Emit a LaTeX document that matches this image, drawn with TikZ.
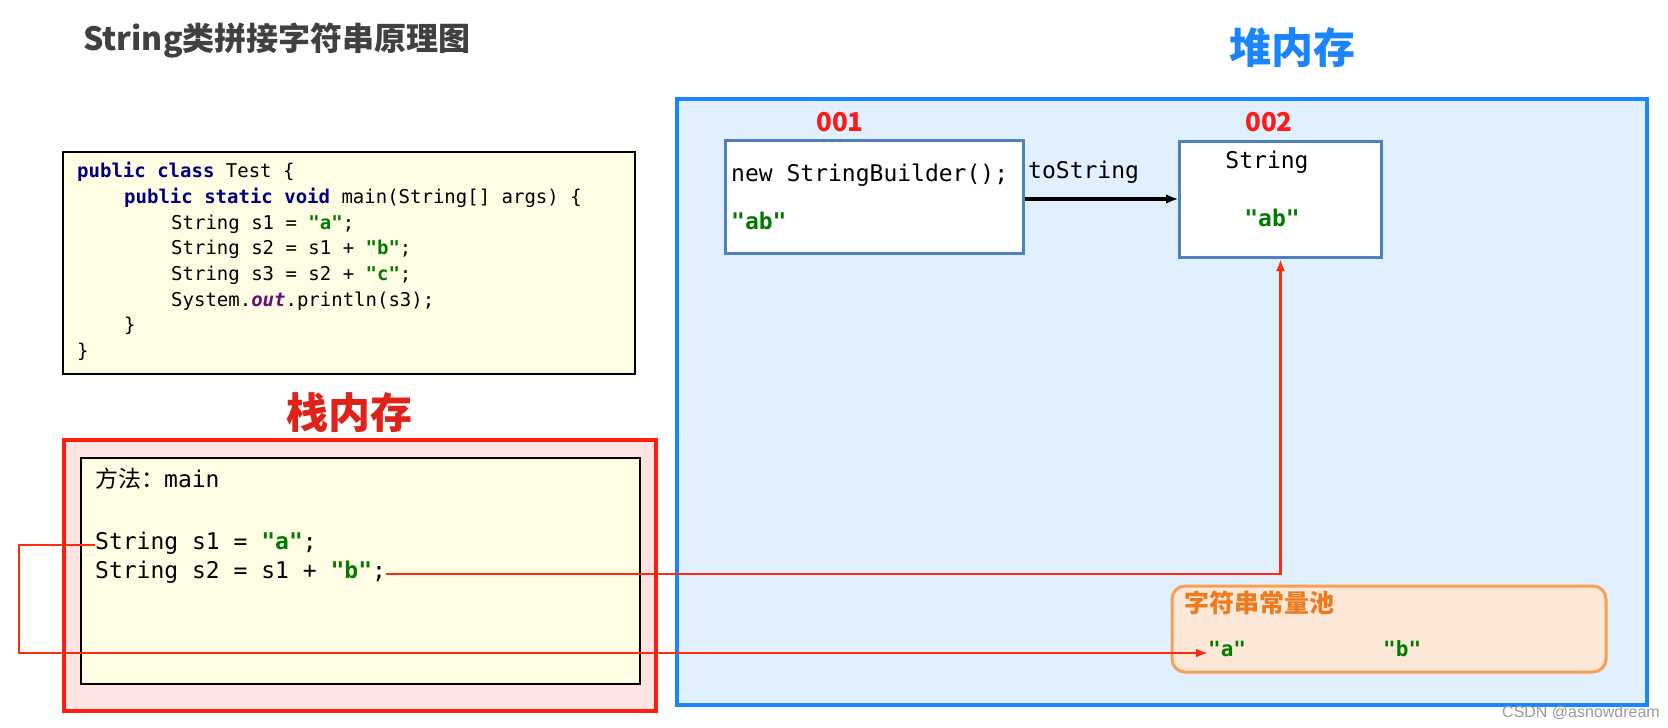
\documentclass[tikz,border=0pt]{standalone}
\usepackage{fontspec}
\setmainfont{Noto Sans CJK SC}
\setmonofont{DejaVu Sans Mono}
\newfontfamily\cjk{Noto Sans CJK SC}
\newfontfamily\wmfont{Liberation Sans}
\usetikzlibrary{arrows.meta}
\definecolor{titlegray}{HTML}{404040}
\definecolor{heapblue}{HTML}{1A85FF}
\definecolor{heapfill}{HTML}{E0F0FF}
\definecolor{boxblue}{HTML}{5080BD}
\definecolor{codefill}{HTML}{FFFDE4}
\definecolor{stackred}{HTML}{FF1E0A}
\definecolor{stacktitle}{HTML}{E0221A}
\definecolor{stackfill}{HTML}{FFE4E4}
\definecolor{kwblue}{HTML}{000080}
\definecolor{strgreen}{HTML}{007A00}
\definecolor{outpurple}{HTML}{660E7A}
\definecolor{addrred}{HTML}{FF1A1A}
\definecolor{pooldraw}{HTML}{F5A055}
\definecolor{poolfill}{HTML}{FDE8D8}
\definecolor{pooltext}{HTML}{EE7A1E}
\definecolor{linkred}{HTML}{FF2A10}
\definecolor{wmgray}{HTML}{9A9A9A}
\newcommand\kw[1]{\textcolor{kwblue}{\bfseries #1}}
\newcommand\qs[1]{\textcolor{strgreen}{\bfseries #1}}
\tikzset{
  code/.style={anchor=west, inner sep=0, text height=1em, text depth=0em,
    font=\ttfamily\fontsize{19}{19}\selectfont},
  bigcode/.style={anchor=west, inner sep=0, text height=1em, text depth=0em,
    font=\ttfamily\fontsize{23}{23}\selectfont},
  objbox/.style={draw=boxblue, line width=3, fill=white, anchor=north west, inner sep=0},
  addr/.style={text=addrred, inner sep=0, font=\cjk\bfseries\fontsize{26}{26}\selectfont},
  bigtitle/.style={inner sep=0, font=\cjk\bfseries\fontsize{42}{42}\selectfont},
  redlink/.style={draw=linkred, line width=2.5, -{Latex[length=12,width=9]}},
}
\begin{document}
\begin{tikzpicture}[x=1pt,y=-1pt]
\useasboundingbox (0,0) rectangle (1668,728);
\fill[white] (0,0) rectangle (1668,728);

% title
\node[anchor=west, inner sep=0, text=titlegray, font=\cjk\bfseries\fontsize{32}{32}\selectfont] (title) at (83,41) {String类拼接字符串原理图};

% heap
\node[bigtitle, text=heapblue] (heapt) at (1292,48) {堆内存};
\draw[draw=heapblue, line width=4, fill=heapfill] (677,99) rectangle (1647,705);

\node[addr] (a001) at (840,122) {001};
\node[addr] (a002) at (1269,122) {002};

\node[objbox, minimum width=298, minimum height=113] (sb) at (724,139) {};
\node[bigcode] (sbtxt) at (731,176) {new StringBuilder();};
\node[bigcode] (sbab) at (731,224) {\qs{"ab"}};

\node[objbox, minimum width=202, minimum height=116] (str) at (1178,140) {};
\node[bigcode, anchor=center] (strtxt) at (1267,163) {String};
\node[bigcode, anchor=center] (strab) at (1272,221) {\qs{"ab"}};

\node[bigcode] (tostr) at (1028,173) {toString};
\draw[line width=4, -{Latex[length=12,width=10]}] (sb.east |- 0,199) -- (str.west |- 0,199);

% pool
\draw[draw=pooldraw, line width=3, fill=poolfill, rounded corners=13] (1172,586) rectangle (1606,672);
\node[anchor=west, inner sep=0, text=pooltext, font=\cjk\bfseries\fontsize{25}{25}\selectfont] (poolt) at (1184,603) {字符串常量池};
\node[code, font=\ttfamily\bfseries\fontsize{21}{21}\selectfont] (pa) at (1208,651) {\qs{"a"}};
\node[code, font=\ttfamily\bfseries\fontsize{21}{21}\selectfont] (pb) at (1383,651) {\qs{"b"}};

% code box
\draw[line width=1.5, fill=codefill] (63,152) rectangle (635,374);
\node[code] (c1) at (77,172) {\kw{public class} Test \{};
\node[code] (c2) at (124,198) {\kw{public static void} main(String[] args) \{};
\node[code] (c3) at (171,224) {String s1 = \qs{"a"};};
\node[code] (c4) at (171,249) {String s2 = s1 + \qs{"b"};};
\node[code] (c5) at (171,275) {String s3 = s2 + \qs{"c"};};
\node[code] (c6) at (171,301) {System.\textcolor{outpurple}{\bfseries\itshape out}.println(s3);};
\node[code] (c7) at (124,326) {\}};
\node[code] (c8) at (77,352) {\}};

% stack
\node[bigtitle, text=stacktitle] (stackt) at (349,413) {栈内存};
\draw[draw=stackred, line width=4, fill=stackfill] (64,440) rectangle (656,711);
\draw[line width=1.5, fill=codefill] (81,458) rectangle (640,684);
\node[bigcode] (meth) at (95,482) {{\cjk 方法：}main};
\node[bigcode] (s1) at (95,544) {String s1 = \qs{"a"};};
\node[bigcode] (s2) at (95,573) {String s2 = s1 + \qs{"b"};};

% links
\coordinate (lb) at (19,653);
\draw[redlink] ([yshift=-1pt]s2.east) -- ([yshift=-1pt]s2.east -| str.south) -- (str.south);
\draw[redlink] ([yshift=-1pt]s1.west) -| (lb) -- (pa.west |- lb);

% watermark
\node[anchor=west, inner sep=0, text=wmgray, font=\wmfont\fontsize{16}{16}\selectfont] (wm) at (1502,713) {CSDN @asnowdream};
\end{tikzpicture}
\end{document}
